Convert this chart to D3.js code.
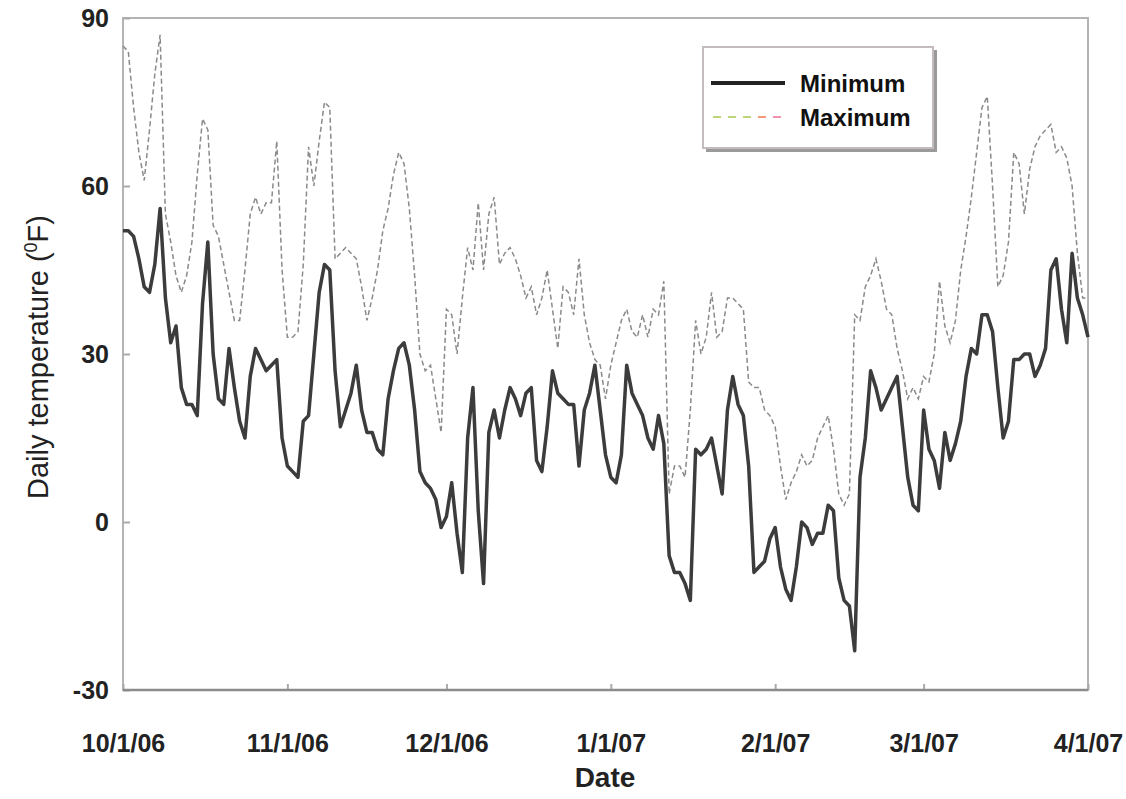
<!DOCTYPE html>
<html>
<head>
<meta charset="utf-8">
<title>Daily temperature</title>
<script src="https://cdn.jsdelivr.net/npm/d3@7/dist/d3.min.js"></script>
<style>
  body { margin: 0; background: #fff; }
  svg { display: block; font-family: "Liberation Sans", Arial, sans-serif; }
  .axis path { display: none; }
  .axis text { font-weight: bold; font-size: 25px; fill: #222; }
</style>
</head>
<body>
<svg id="chart" width="1126" height="799"></svg>
<script>
// daily values, 10/1/06 .. 4/1/07 (one per day)
var startDate = "2006-10-01";
var minTemp = [
  52,52,51,47,42,41,46,56,40,32,
  35,24,21,21,19,39,50,30,22,21,
  31,24,18,15,26,31,29,27,28,29,
  15,10,9,8,18,19,30,41,46,45,
  27,17,20,23,28,20,16,16,13,12,
  22,27,31,32,28,20,9,7,6,4,
  -1,1,7,-2,-9,15,24,2,-11,16,
  20,15,20,24,22,19,23,24,11,9,
  17,27,23,22,21,21,10,20,23,28,
  20,12,8,7,12,28,23,21,19,15,
  13,19,14,-6,-9,-9,-11,-14,13,12,
  13,15,10,5,20,26,21,19,10,-9,
  -8,-7,-3,-1,-8,-12,-14,-8,0,-1,
  -4,-2,-2,3,2,-10,-14,-15,-23,8,
  15,27,24,20,22,24,26,17,8,3,
  2,20,13,11,6,16,11,14,18,26,
  31,30,37,37,34,24,15,18,29,29,
  30,30,26,28,31,45,47,38,32,48,
  40,37,33
];
var maxTemp = [
  85,84,74,66,61,70,80,87,55,50,
  44,41,44,50,62,72,70,53,51,46,
  41,36,36,45,55,58,55,57,57,68,
  45,33,33,34,46,67,60,68,75,74,
  47,48,49,48,47,42,36,40,45,52,
  56,62,66,64,56,44,30,27,28,22,
  16,38,37,30,40,49,45,57,45,55,
  58,46,48,49,47,44,40,42,37,40,
  45,38,31,42,41,37,47,37,32,29,
  28,22,28,32,36,38,34,33,37,33,
  38,37,43,5,10,10,8,20,36,30,
  33,41,33,34,40,40,39,38,25,24,
  24,20,19,17,10,4,7,9,12,10,
  11,15,17,19,13,5,3,5,37,36,
  42,44,47,43,38,37,31,27,22,24,
  22,26,25,30,43,35,32,36,45,51,
  58,66,74,76,60,42,44,50,66,64,
  55,63,67,69,70,71,66,67,65,60,
  48,40,40
];
var yTicks = [-30, 0, 30, 60, 90];
var monthTicks = ["2006-10-01","2006-11-01","2006-12-01","2007-01-01","2007-02-01","2007-03-01","2007-04-01"];
var seriesNames = ["Minimum", "Maximum"];

var margin = {top: 18, right: 38, bottom: 109, left: 123},
    width = 1126 - margin.left - margin.right,
    height = 799 - margin.top - margin.bottom;

var parse = d3.utcParse("%Y-%m-%d");
var t0 = parse(startDate);
var days = minTemp.map(function(d, i) { return d3.utcDay.offset(t0, i); });

var x = d3.scaleUtc()
    .domain([t0, parse(monthTicks[monthTicks.length - 1])])
    .range([0, width]);
var y = d3.scaleLinear().domain([-30, 90]).range([height, 0]);

var svg = d3.select("#chart");
var g = svg.append("g").attr("transform", "translate(" + margin.left + "," + margin.top + ")");

// plot frame
g.append("rect")
  .attr("width", width).attr("height", height)
  .attr("fill", "none").attr("stroke", "#b4b4b4").attr("stroke-width", 2);

// y axis (ticks point into the plot), plain hyphen for negatives
g.append("g")
  .attr("class", "axis")
  .call(d3.axisLeft(y).tickValues(yTicks).tickFormat(function(d) { return String(d); })
    .tickSizeInner(-7).tickSizeOuter(0).tickPadding(14))
  .call(function(a) { a.selectAll("line").attr("stroke", "#aaa").attr("stroke-width", 2); });

// x axis
g.append("g")
  .attr("class", "axis")
  .attr("transform", "translate(0," + height + ")")
  .call(d3.axisBottom(x).tickValues(monthTicks.map(parse))
    .tickFormat(d3.utcFormat("%-m/%-d/%y")).tickSizeInner(-6).tickSizeOuter(0).tickPadding(44))
  .call(function(a) { a.selectAll("line").attr("stroke", "#aaa").attr("stroke-width", 2); });

g.append("line")
  .attr("x1", 0).attr("x2", width).attr("y1", height).attr("y2", height)
  .attr("stroke", "#8c8c8c").attr("stroke-width", 2.5);

// series
var lineMax = d3.line().x(function(d, i) { return x(days[i]); }).y(function(d) { return y(d); });
var lineMin = d3.line().x(function(d, i) { return x(days[i]); }).y(function(d) { return y(d); });

g.append("path")
  .datum(maxTemp)
  .attr("d", lineMax)
  .attr("fill", "none")
  .attr("stroke", "#8a8a8a")
  .attr("stroke-width", 1.5)
  .attr("stroke-dasharray", "5,3");

g.append("path")
  .datum(minTemp)
  .attr("d", lineMin)
  .attr("fill", "none")
  .attr("stroke", "#3c3c3c")
  .attr("stroke-width", 3.5)
  .attr("stroke-linejoin", "round");

// axis titles
svg.append("text")
  .attr("x", 605).attr("y", 787)
  .attr("text-anchor", "middle")
  .style("font-size", "28px").style("font-weight", "bold").style("fill", "#222")
  .text("Date");

var yt = svg.append("text")
  .attr("transform", "translate(48,357) rotate(-90)")
  .attr("text-anchor", "middle")
  .style("font-size", "29px").style("fill", "#222");
yt.append("tspan").text("Daily temperature (");
yt.append("tspan").attr("dy", -11).style("font-size", "18px").text("0");
yt.append("tspan").attr("dy", 11).text("F)");

// legend
var lg = svg.append("g").attr("transform", "translate(703,47)");
lg.append("rect").attr("x", 3).attr("y", 3).attr("width", 231).attr("height", 102).attr("fill", "#9a9a9a");
lg.append("rect").attr("width", 230).attr("height", 101)
  .attr("fill", "#fff").attr("stroke", "#c4bcbc").attr("stroke-width", 2);

lg.append("line").attr("x1", 8).attr("x2", 82).attr("y1", 36).attr("y2", 36)
  .attr("stroke", "#222").attr("stroke-width", 4);
var dashCols = ["#a8c84c", "#a8c84c", "#a8c84c", "#f0784c", "#f07090"];
lg.selectAll(".dash").data(dashCols).enter().append("line")
  .attr("x1", function(d, i) { return 10 + i * 15; })
  .attr("x2", function(d, i) { return 18 + i * 15; })
  .attr("y1", 70).attr("y2", 70)
  .attr("stroke", function(d) { return d; }).attr("stroke-width", 1.5);

lg.selectAll(".lab").data(seriesNames).enter().append("text")
  .attr("x", 97).attr("y", function(d, i) { return 45 + i * 34; })
  .style("font-size", "24px").style("font-weight", "bold").style("fill", "#111")
  .text(function(d) { return d; });
</script>
</body>
</html>
